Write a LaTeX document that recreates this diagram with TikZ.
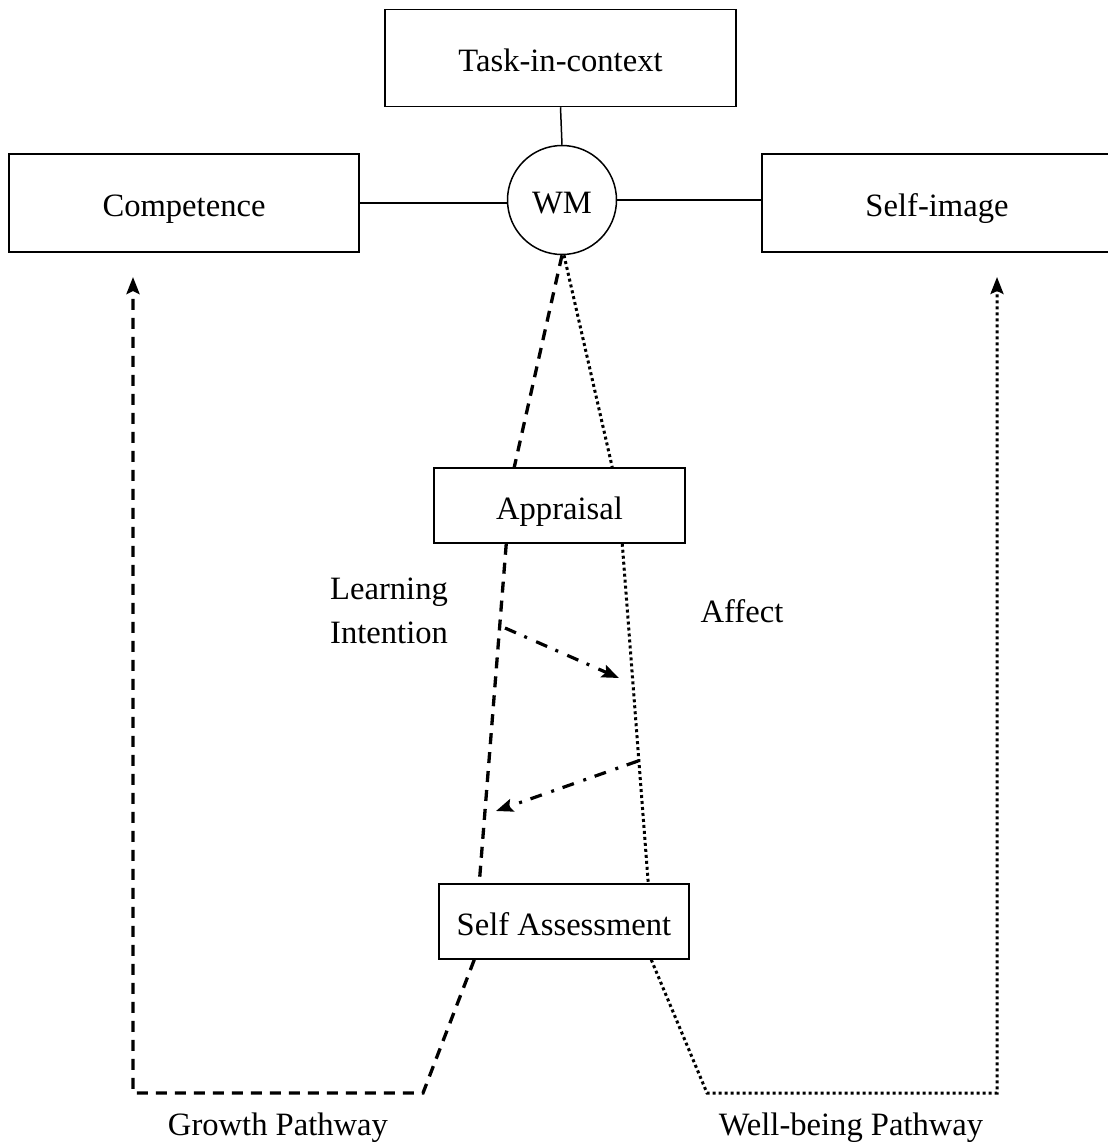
\documentclass[tikz,border=0pt]{standalone}
\usepackage{fontspec}
\setmainfont{Liberation Serif}
\usetikzlibrary{arrows.meta}
\begin{document}
\begin{tikzpicture}[x=1pt,y=-1pt,
  box/.style={draw,line width=1.5pt,rectangle,inner sep=0pt,text height=27pt,text depth=0pt,font=\fontsize{32.6}{40}\selectfont},
  lbl/.style={inner sep=0pt,font=\fontsize{32.6}{44}\selectfont},
  thin/.style={line width=1.5pt},
  dsh/.style={line width=3.3pt,dash pattern=on 11pt off 8pt},
  dtt/.style={line width=3pt,dash pattern=on 3pt off 3pt},
  ddot/.style={line width=3.2pt,dash pattern=on 12pt off 9pt on 3pt off 10pt},
  tip/.style={-{Stealth[length=17pt,width=13pt,inset=3pt]}}]
\useasboundingbox (0,0) rectangle (1108,1146);
\node[box,minimum width=351pt,minimum height=97pt] (task) at (560.5,58) {Task-in-context};
\node[box,minimum width=350pt,minimum height=98pt] (comp) at (184,203) {Competence};
\node[box,minimum width=350pt,minimum height=98pt] (self) at (937,203) {Self-image};
\node[box,circle,minimum size=109pt] (wm) at (562,200) {WM};
\node[box,minimum width=251pt,minimum height=75pt] (appr) at (559.5,505.5) {Appraisal};
\node[box,minimum width=250pt,minimum height=75pt] (sa) at (564,921.5) {Self Assessment};
\node[lbl,anchor=west,align=left] (li) at (330,611) {Learning\\Intention};
\node[lbl] (aff) at (742,611) {Affect};
\node[lbl] (gp) at (278,1128) {Growth Pathway};
\node[lbl] (wp) at (851,1128) {Well-being Pathway};
% solid links
\draw[thin] (task.south) -- (wm.north);
\draw[thin] (comp.east) -- (wm.west |- comp.east);
\draw[thin] (wm.east) -- (self.west |- wm.east);
% dashed growth path
\coordinate (g1) at (423,1093);
\coordinate (g2) at (133,1093);
\coordinate (g3) at (133,277);
\draw[dsh] (wm.south) -- ([xshift=81pt]appr.north west);
\draw[dsh] ([xshift=73pt]appr.south west) -- ([xshift=41pt]sa.north west);
\draw[dsh,tip] ([xshift=36pt]sa.south west) -- (g1) -- (g2) -- (g3);
% dotted well-being path
\coordinate (w1) at (707,1093);
\coordinate (w2) at (997,1093);
\coordinate (w3) at (997,277);
\draw[dtt] ([xshift=2pt]wm.south) -- ([xshift=179pt]appr.north west);
\draw[dtt] ([xshift=189pt]appr.south west) -- ([xshift=210pt]sa.north west);
\draw[dtt,tip] ([xshift=213pt]sa.south west) -- (w1) -- (w2) -- (w3);
% dash-dot arrows
\coordinate (a1) at (505,628);
\coordinate (a2) at (619,678);
\coordinate (b1) at (638,761);
\coordinate (b2) at (496,811);
\draw[ddot,tip] (a1) -- (a2);
\draw[ddot,tip] (b1) -- (b2);
\end{tikzpicture}
\end{document}
